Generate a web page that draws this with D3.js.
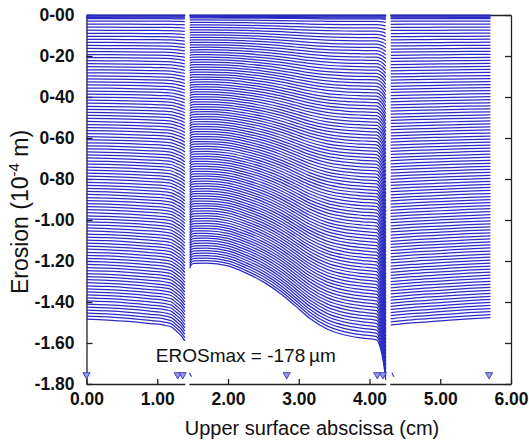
<!DOCTYPE html>
<html>
<head>
<meta charset="utf-8">
<script src="https://cdn.jsdelivr.net/npm/d3@7"></script>
<style>
  body { margin: 0; background: #fff; }
  svg { display: block; }
</style>
</head>
<body>
<script>
// final erosion profile of each surface segment (x in cm, erosion in 1e-4 m)
var seg1X = [0.00, 0.30, 0.60, 0.90, 1.10, 1.20, 1.28, 1.34, 1.39];
var seg1Final = [-1.484, -1.488, -1.495, -1.505, -1.513, -1.522, -1.545, -1.565, -1.590];

var seg2X = [1.46, 1.48, 1.52, 1.70, 2.00, 2.25, 2.50, 2.75, 2.95, 3.15, 3.40, 3.65, 3.90, 4.10, 4.15, 4.19, 4.23];
var seg2Final = [-1.235, -1.218, -1.211, -1.210, -1.224, -1.258, -1.302, -1.361, -1.419, -1.478, -1.532, -1.561, -1.576, -1.585, -1.620, -1.680, -1.780];

var seg3X = [4.30, 4.60, 5.00, 5.40, 5.71];
var seg3Final = [-1.512, -1.502, -1.492, -1.482, -1.476];

// fraction of the final erosion reached at each output time
var outputFractions = [
  0.000, 0.003, 0.006, 0.009, 0.012, 0.02, 0.03, 0.04, 0.05, 0.06, 0.07, 0.08, 0.09,
  0.10, 0.11, 0.12, 0.13, 0.14, 0.15, 0.16, 0.17, 0.18, 0.19,
  0.20, 0.21, 0.22, 0.23, 0.24, 0.25, 0.26, 0.27, 0.28, 0.29,
  0.30, 0.31, 0.32, 0.33, 0.34, 0.35, 0.36, 0.37, 0.38, 0.39,
  0.40, 0.41, 0.42, 0.43, 0.44, 0.45, 0.46, 0.47, 0.48, 0.49,
  0.50, 0.51, 0.52, 0.53, 0.54, 0.55, 0.56, 0.57, 0.58, 0.59,
  0.60, 0.61, 0.62, 0.63, 0.64, 0.65, 0.66, 0.67, 0.68, 0.69,
  0.70, 0.71, 0.72, 0.73, 0.74, 0.75, 0.76, 0.77, 0.78, 0.79,
  0.80, 0.81, 0.82, 0.83, 0.84, 0.85, 0.86, 0.87, 0.88, 0.89,
  0.90, 0.91, 0.92, 0.93, 0.94, 0.95, 0.96, 0.97, 0.98, 0.99, 1.00
];

// gaps between segments (cm)
var gaps = [[1.39, 1.46], [4.23, 4.30]];

// sensor markers along the bottom
var markerX = [0.00, 1.29, 1.36, 2.83, 4.11, 4.19, 5.69];
var slashX = [1.47, 4.33];

var yTicks = [0, -0.2, -0.4, -0.6, -0.8, -1.0, -1.2, -1.4, -1.6, -1.8];
var yTickLabels = ["0-00", "0-20", "0-40", "0-60", "0-80", "-1.00", "-1.20", "-1.40", "-1.60", "-1.80"];
var xTicks = [0, 1, 2, 3, 4, 5, 6];
var xTickLabels = ["0.00", "1.00", "2.00", "3.00", "4.00", "5.00", "6.00"];

var svgWidth = 529;
var svgHeight = 442;
var margin = { top: 15, right: 18, bottom: 58, left: 86.5 };
var width = svgWidth - margin.left - margin.right;
var height = svgHeight - margin.top - margin.bottom;

var svg = d3.select("body")
  .append("svg")
  .attr("width", svgWidth)
  .attr("height", svgHeight);

var chartGroup = svg.append("g")
  .attr("transform", `translate(${margin.left}, ${margin.top})`);

var xScale = d3.scaleLinear().domain([0, 6]).range([0, width]);
var yScale = d3.scaleLinear().domain([0, -1.8]).range([0, height]);

// axes, ticks pointing inwards
var bottomAxis = d3.axisBottom(xScale)
  .tickValues(xTicks)
  .tickFormat((d, i) => xTickLabels[i])
  .tickSizeInner(-5).tickSizeOuter(0).tickPadding(9);
var leftAxis = d3.axisLeft(yScale)
  .tickValues(yTicks)
  .tickFormat((d, i) => yTickLabels[i])
  .tickSizeInner(-6).tickSizeOuter(0).tickPadding(12);
var rightAxis = d3.axisRight(yScale)
  .tickValues(yTicks)
  .tickFormat("")
  .tickSizeInner(-6).tickSizeOuter(0);
var topAxis = d3.axisTop(xScale).tickValues([]).tickSizeOuter(0);

var axes = chartGroup.append("g").attr("class", "axes");
axes.append("g").attr("transform", `translate(0, ${height})`).call(bottomAxis);
axes.append("g").call(leftAxis);
axes.append("g").attr("transform", `translate(${width}, 0)`).call(rightAxis);
axes.append("g").call(topAxis);

axes.selectAll(".domain, .tick line")
  .attr("stroke", "#222")
  .attr("stroke-width", 1.3);
axes.selectAll(".tick text")
  .attr("fill", "#111")
  .style("font-family", "'Liberation Sans', Arial, sans-serif")
  .style("font-weight", "bold")
  .style("font-size", "17.5px");

// white gaps cut through the frame
chartGroup.selectAll("rect.gap")
  .data(gaps)
  .enter()
  .append("rect")
  .attr("class", "gap")
  .attr("x", d => xScale(d[0]) + 0.5)
  .attr("width", d => xScale(d[1]) - xScale(d[0]) - 1)
  .attr("y", -8)
  .attr("height", height + 16)
  .attr("fill", "#fff");

// erosion profiles at every output time
var segments = [
  { x: seg1X, y: seg1Final },
  { x: seg2X, y: seg2Final },
  { x: seg3X, y: seg3Final }
];

var line = d3.line()
  .x(d => xScale(d[0]))
  .y(d => yScale(d[1]))
  .curve(d3.curveMonotoneX);

var profiles = [];
segments.forEach(function(seg) {
  outputFractions.forEach(function(f) {
    profiles.push(seg.x.map((x, i) => [x, seg.y[i] * f]));
  });
});

chartGroup.append("g")
  .selectAll("path")
  .data(profiles)
  .enter()
  .append("path")
  .attr("d", line)
  .attr("fill", "none")
  .attr("stroke", "#2a2ac6")
  .attr("stroke-width", 1.25);

// markers
var tri = d3.symbol().type(d3.symbolTriangle).size(22);
chartGroup.selectAll("path.marker")
  .data(markerX)
  .enter()
  .append("path")
  .attr("class", "marker")
  .attr("d", tri)
  .attr("transform", d => `translate(${xScale(d)}, ${yScale(-1.755)}) rotate(180)`)
  .attr("fill", "#9a9ae0")
  .attr("stroke", "#4040c8")
  .attr("stroke-width", 1);

chartGroup.selectAll("line.slash")
  .data(slashX)
  .enter()
  .append("line")
  .attr("class", "slash")
  .attr("x1", d => xScale(d) - 1)
  .attr("x2", d => xScale(d) + 1)
  .attr("y1", yScale(-1.745))
  .attr("y2", yScale(-1.765))
  .attr("stroke", "#4040c8")
  .attr("stroke-width", 1.2);

// annotation
chartGroup.append("text")
  .attr("x", xScale(0.98))
  .attr("y", yScale(-1.695))
  .style("font-family", "'Liberation Sans', Arial, sans-serif")
  .style("font-size", "19px")
  .attr("fill", "#111")
  .text("EROSmax = -178\u2009\u00b5m");

// axis titles
svg.append("text")
  .attr("x", 312)
  .attr("y", 435)
  .attr("text-anchor", "middle")
  .style("font-family", "'Liberation Sans', Arial, sans-serif")
  .style("font-size", "20px")
  .attr("fill", "#111")
  .text("Upper surface abscissa (cm)");

var yTitle = svg.append("text")
  .attr("transform", "translate(28, 212) rotate(-90)")
  .attr("text-anchor", "middle")
  .style("font-family", "'Liberation Sans', Arial, sans-serif")
  .style("font-size", "23px")
  .attr("fill", "#111");
yTitle.append("tspan").text("Erosion (10");
yTitle.append("tspan").attr("dy", -9).style("font-size", "15px").text("-4");
yTitle.append("tspan").attr("dy", 9).text(" m)");
</script>
</body>
</html>
